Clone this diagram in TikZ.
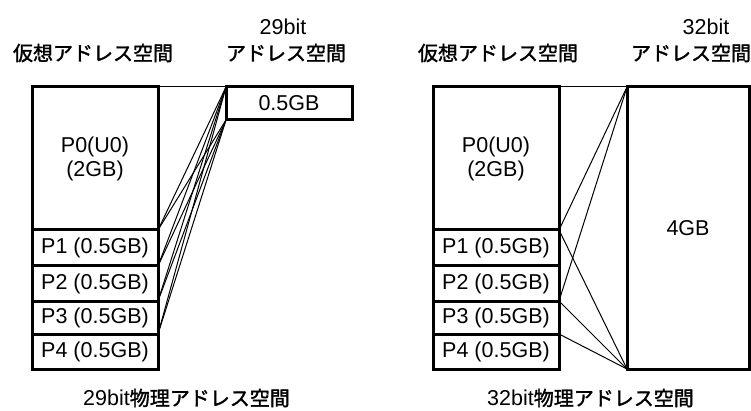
\documentclass[tikz,border=0pt]{standalone}
\usepackage{fontspec}
\setmainfont{Liberation Sans}
\newfontfamily\jp[FakeBold=1.6]{Noto Sans CJK JP}
\begin{document}
\begin{tikzpicture}[x=1pt,y=-1pt,
  mem/.style={draw, line width=3pt, rectangle, inner sep=0pt, outer sep=0pt,
    minimum width=126pt, anchor=north west, align=center,
    font=\fontsize{21.5}{24}\selectfont},
  map/.style={line width=1pt},
  ttl/.style={inner sep=0pt, font=\jp\fontsize{20}{22}\selectfont},
  bitl/.style={inner sep=0pt, font=\fontsize{21.5}{24}\selectfont}]
\useasboundingbox (0,0) rectangle (751,411);
% ---------- left ----------
\node[ttl] (lt1) at (93,53) {仮想アドレス空間};
\node[bitl] (lt2) at (283,27) {29bit};
\node[ttl] (lt3) at (286,53) {アドレス空間};
\node[mem, minimum height=143pt] (l0) at (32,87) {P0(U0)\\(2GB)};
\node[mem, minimum height=36pt] (l1) at (32,230) {P1 (0.5GB)};
\node[mem, minimum height=35pt] (l2) at (32,266) {P2 (0.5GB)};
\node[mem, minimum height=33pt] (l3) at (32,301) {P3 (0.5GB)};
\node[mem, minimum height=35pt] (l4) at (32,334) {P4 (0.5GB)};
\node[mem, minimum height=33pt] (half) at (226,87) {0.5GB};
\draw[map] (l0.north east) -- (half.north west);
\foreach \n in {l0,l1,l2,l3}{
  \draw[map] (half.north west) -- (\n.south east);
  \draw[map] (half.south west) -- (\n.south east);
}
\node[bitl, anchor=west] (lb) at (83,398) {29bit{\jp\fontsize{20}{22}\selectfont 物理アドレス空間}};
% ---------- right ----------
\node[ttl] (rt1) at (498,53) {仮想アドレス空間};
\node[bitl] (rt2) at (706,27) {32bit};
\node[ttl] (rt3) at (691,53) {アドレス空間};
\node[mem, minimum height=143pt] (r0) at (433,87) {P0(U0)\\(2GB)};
\node[mem, minimum height=36pt] (r1) at (433,230) {P1 (0.5GB)};
\node[mem, minimum height=35pt] (r2) at (433,266) {P2 (0.5GB)};
\node[mem, minimum height=33pt] (r3) at (433,301) {P3 (0.5GB)};
\node[mem, minimum height=35pt] (r4) at (433,334) {P4 (0.5GB)};
\node[mem, minimum width=122pt, minimum height=282pt] (four) at (627,87) {4GB};
\draw[map] (r0.north east) -- (four.north west);
\draw[map] (four.north west) -- (r0.south east);
\draw[map] (four.north west) -- (r2.south east);
\draw[map] (four.south west) -- (r1.north east);
\draw[map] (four.south west) -- (r3.north east);
\draw[map] (four.south west) -- (r4.north east);
\node[bitl, anchor=west] (rb) at (487,398) {32bit{\jp\fontsize{20}{22}\selectfont 物理アドレス空間}};
\end{tikzpicture}
\end{document}
